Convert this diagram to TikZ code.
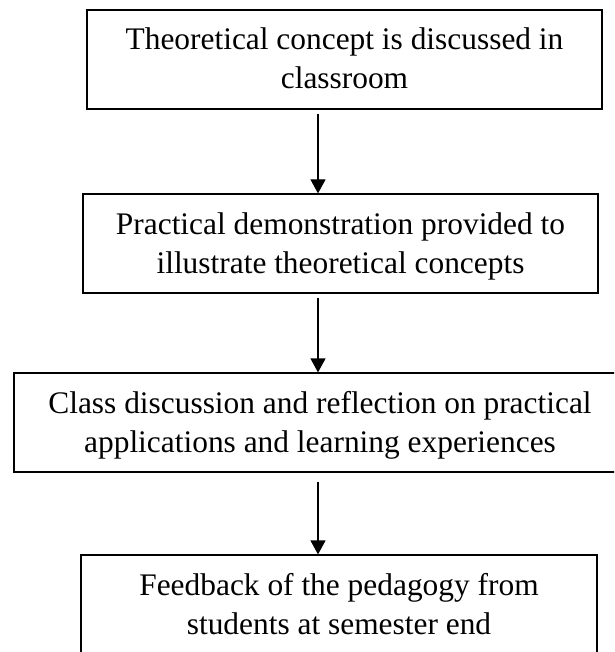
\documentclass[tikz,border=0pt]{standalone}
\usepackage{fontspec}
\setmainfont{Liberation Serif}
\usetikzlibrary{arrows.meta}
\begin{document}
\begin{tikzpicture}[x=1pt,y=1pt,
  stepbox/.style={draw=black, line width=1.2pt, rectangle, inner sep=0pt, align=center,
     font=\fontsize{31.4}{39}\selectfont, text height=60pt, text depth=1pt, minimum height=99pt},
  flow/.style={line width=1.2pt, -{Triangle[width=15pt,length=14pt]}}]
\useasboundingbox (0,0) rectangle (614,-652);
\clip (0,0) rectangle (614,-652);
\node[stepbox, minimum width=515pt] (b1) at (344.5,-59.5) {Theoretical concept is discussed in\\classroom};
\node[stepbox, minimum width=515pt] (b2) at (340.5,-243.5) {Practical demonstration provided to\\illustrate theoretical concepts};
\node[stepbox, minimum width=612pt] (b3) at (320,-422.5) {Class discussion and reflection on practical\\applications and learning experiences};
\node[stepbox, minimum width=516pt] (b4) at (339,-604.5) {Feedback of the pedagogy from\\students at semester end};
\coordinate (ax) at (318,0);
\draw[flow, shorten <=4pt] (b1.south -| ax) -- (b2.north -| ax);
\draw[flow, shorten <=4pt] (b2.south -| ax) -- (b3.north -| ax);
\draw[flow, shorten <=9pt] (b3.south -| ax) -- (b4.north -| ax);
\end{tikzpicture}
\end{document}
